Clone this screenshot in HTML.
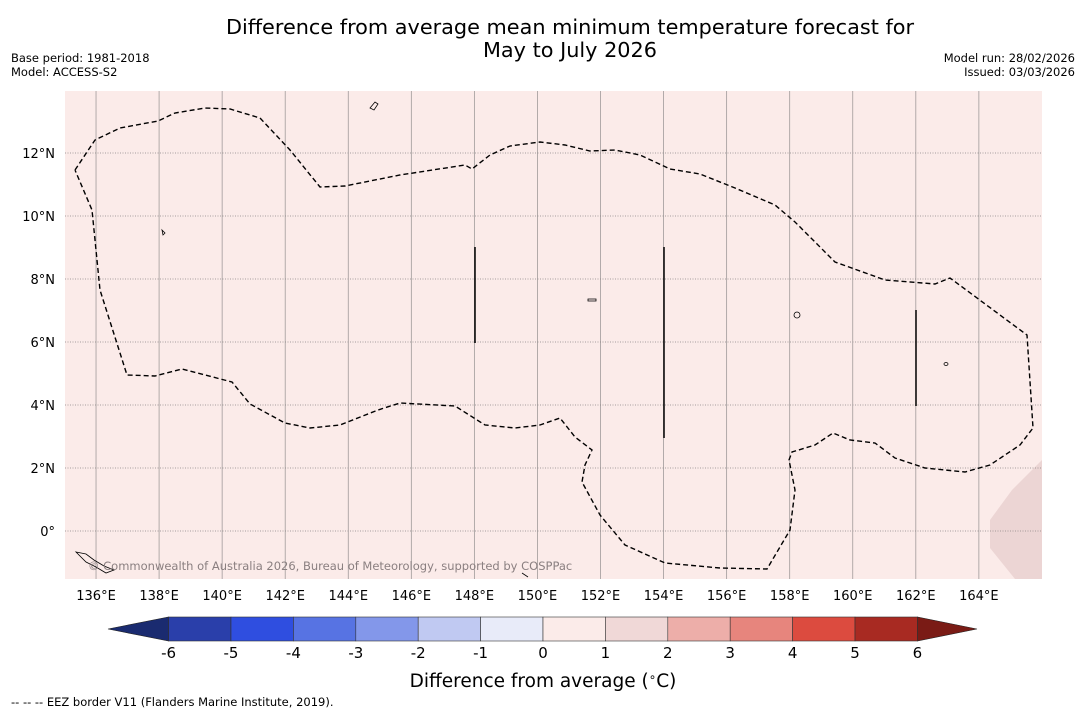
<!DOCTYPE html>
<html><head><meta charset="utf-8"><style>
body{margin:0;background:#fff;width:1085px;height:713px;overflow:hidden;font-family:"Liberation Sans","DejaVu Sans",sans-serif}
</style></head><body>
<svg width="1085" height="713" xmlns="http://www.w3.org/2000/svg" font-family="DejaVu Sans, Liberation Sans, sans-serif">
<text x="570" y="34" font-size="20.8" text-anchor="middle">Difference from average mean minimum temperature forecast for</text>
<text x="570" y="57" font-size="20.8" text-anchor="middle">May to July 2026</text>
<text x="11" y="62" font-size="11.5">Base period: 1981-2018</text>
<text x="11" y="76" font-size="11.5">Model: ACCESS-S2</text>
<text x="1075" y="62" font-size="11.5" text-anchor="end">Model run: 28/02/2026</text>
<text x="1075" y="76" font-size="11.5" text-anchor="end">Issued: 03/03/2026</text>
<rect x="65" y="91" width="977" height="488" fill="#fbebe9"/>
<polygon points="1042,460 1012,490 990,520 990,548 1015,579 1042,579" fill="#ecd5d4"/>
<g id="grid"></g>
<path id="eez" fill="none" stroke="#000" stroke-width="1.4" stroke-dasharray="5,3"/>
<g stroke="#000" stroke-width="1.5">
<line x1="475" y1="247" x2="475" y2="343"/><line x1="664" y1="247" x2="664" y2="438"/><line x1="916" y1="310" x2="916" y2="406"/>
</g>
<g fill="none" stroke="#000" stroke-width="0.8">
<path d="M370,108 l5,-6 l3,2 l-4,6 z"/><path d="M76,552 l10,2 l8,6 l10,6 l10,4 l-8,3 l-10,-6 l-10,-5 z"/>
<path d="M588,299 l8,0 l0,2 l-8,0 z"/><ellipse cx="797" cy="315" rx="3" ry="3"/><ellipse cx="946" cy="364" rx="2" ry="1.5"/>
<path d="M162,230 l3,3 l-2,2z"/><path d="M522,573 l6,4"/>
</g>
<text x="88" y="570" font-size="11.5" fill="#8a7f80">© Commonwealth of Australia 2026, Bureau of Meteorology, supported by COSPPac</text>
<g id="xt" font-size="13"></g><g id="yt" font-size="13"></g>
<g id="cbar"></g>
<text x="543" y="687" font-size="18.5" text-anchor="middle">Difference from average (<tspan font-size="12" dy="-6">∘</tspan><tspan dy="6">C)</tspan></text>
<text x="11" y="706" font-size="11.5">--  --  -- EEZ border V11 (Flanders Marine Institute, 2019).</text>
</svg>
<script>
const lonTicks=[136,138,140,142,144,146,148,150,152,154,156,158,160,162,164];
const latTicks=[0,2,4,6,8,10,12];
const cbarValues=[-6,-5,-4,-3,-2,-1,0,1,2,3,4,5,6];
const cbarColors=["#2a3faa","#2f4ee0","#5773e3","#8397ea","#c0c9f2","#e8ebf9","#fbebe9","#f0d8d7","#edaea9","#e7857d","#dc4b3f","#a82a22"];
const NS="http://www.w3.org/2000/svg";
const X=l=>64.5+(l-135)*31.53, Y=l=>531-l*31.5, C=v=>543+v*62.4;
function mk(t,a,p){const e=document.createElementNS(NS,t);for(const k in a)e.setAttribute(k,a[k]);p.appendChild(e);return e;}
const g=document.getElementById('grid'),xt=document.getElementById('xt'),yt=document.getElementById('yt'),cb=document.getElementById('cbar');
lonTicks.forEach(l=>{
 const ln=mk('line',{x1:X(l),x2:X(l),y1:91,y2:579,stroke:'#a09a9a','stroke-width':0.8},g);
 
 
 const t=mk('text',{x:X(l),y:600,'text-anchor':'middle'},xt);t.textContent=l+'°E';
 
 
});
latTicks.forEach(l=>{
 const ln=mk('line',{x1:65,x2:1042,y1:Y(l),y2:Y(l),stroke:'#8a8585','stroke-width':0.8,'stroke-dasharray':'1,1.5'},g);
 
 
 const t=mk('text',{x:55,y:Y(l)+5,'text-anchor':'end'},yt);t.textContent=(l+'°'+(l>0?'N':''));
 
 
});
const pts=[[75,170],[95,140],[120,128],[158,121],[175,113],[205,108],[230,109],[260,118],[290,150],[320,187],[345,186],[400,175],[465,165],[472,169],[490,155],[510,146],[540,142],[565,145],[590,151],[615,150],[640,155],[670,169],[700,174],[735,188],[775,205],[795,222],[835,262],[885,280],[935,284],[950,278],[1027,335],[1033,428],[1020,445],[990,465],[965,472],[925,468],[895,458],[875,443],[850,440],[833,433],[815,445],[792,452],[789,460],[795,490],[790,530],[767,569],[720,568],[665,563],[625,545],[600,515],[582,482],[585,465],[592,450],[575,437],[560,418],[540,425],[515,428],[485,425],[455,406],[400,403],[378,410],[340,425],[310,428],[285,423],[250,404],[232,382],[182,369],[155,376],[127,375],[100,290],[92,210],[75,170]];
document.getElementById('eez').setAttribute('d','M'+pts.map(p=>p.join(',')).join(' L'));
const y0=617,y1=641;
let tri=mk('polygon',{points:`${C(-6)},${y0} ${C(-6)},${y1} 108,629`,fill:'#1a2b70',stroke:'#222','stroke-width':0.6},cb);


tri=mk('polygon',{points:`${C(6)},${y0} ${C(6)},${y1} 977,629`,fill:'#7a1b15',stroke:'#222','stroke-width':0.6},cb);


cbarColors.forEach((c,i)=>{
 const r=mk('rect',{x:C(cbarValues[i]),y:y0,width:C(cbarValues[i+1])-C(cbarValues[i]),height:y1-y0,fill:c,stroke:'#333','stroke-width':0.6},cb);
 
 
});
cbarValues.forEach(v=>{
 const t=mk('text',{x:C(v),y:658,'text-anchor':'middle','font-size':15},cb);t.textContent=v;
 
 
});
</script>
</body></html>
